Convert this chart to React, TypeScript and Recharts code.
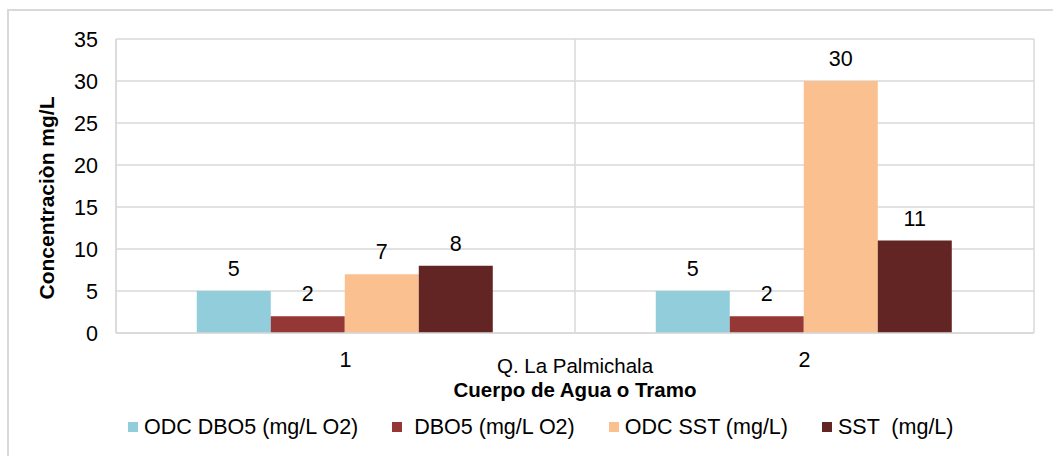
import { BarChart, Bar, XAxis, YAxis, CartesianGrid, Legend, LabelList } from 'recharts'

const tramos = ['1', '2']
const odcDbo5 = [5, 5]
const dbo5 = [2, 2]
const odcSst = [7, 30]
const sst = [8, 11]
const yTicks = [0, 5, 10, 15, 20, 25, 30, 35]

const series = [
  { key: 'odcDbo5', name: 'ODC DBO5 (mg/L O2)', color: '#92CDDC' },
  { key: 'dbo5', name: ' DBO5 (mg/L O2)', color: '#953735' },
  { key: 'odcSst', name: 'ODC SST (mg/L)', color: '#FAC090' },
  { key: 'sst', name: 'SST  (mg/L)', color: '#632523' },
]

const data = tramos.map((t, i) => ({
  tramo: t,
  odcDbo5: odcDbo5[i],
  dbo5: dbo5[i],
  odcSst: odcSst[i],
  sst: sst[i],
}))

const FONT = '"Liberation Sans", Arial, sans-serif'
const FS = 21.5
const GRID = '#d9d9d9'

const CustomLegend = () => (
  <div style={{ display: 'flex', alignItems: 'center', height: 24, paddingLeft: 128, fontFamily: FONT, fontSize: FS, color: '#000' }}>
    {series.map((s) => (
      <div key={s.key} style={{ display: 'flex', alignItems: 'center', marginRight: 34, whiteSpace: 'pre' }}>
        <span style={{ width: 10, height: 10, background: s.color, marginRight: 6, display: 'inline-block' }} />
        <span>{s.name}</span>
      </div>
    ))}
  </div>
)

// two-level category axis: group name + axis title
const XTitle = ({ viewBox }: any) => {
  const cx = viewBox.x + viewBox.width / 2
  return (
    <g fontFamily={FONT} fill="#000" textAnchor="middle">
      <text x={cx} y={viewBox.y + 40} fontSize={20.5}>Q. La Palmichala</text>
      <text x={cx} y={viewBox.y + 64} fontSize={20.5} fontWeight="bold">Cuerpo de Agua o Tramo</text>
    </g>
  )
}

const YTitle = () => (
  <text
    x={46}
    y={198}
    transform="rotate(-90, 46, 198)"
    textAnchor="middle"
    dominantBaseline="central"
    fontFamily={FONT}
    fontSize={21}
    fontWeight="bold"
    fill="#000"
  >
    Concentraciòn mg/L
  </text>
)

const categoryBounds = ({ offset }: any) => {
  const step = offset.width / tramos.length
  return tramos.map((_, i) => offset.left + i * step).concat(offset.left + offset.width)
}

export default function App() {
  return (
    <div style={{ position: 'fixed', left: 0, top: 0, width: 1053, height: 456, overflow: 'hidden', background: '#fff' }}>
      <div style={{ position: 'absolute', left: 7, top: 9, width: 1100, height: 500, border: `2px solid ${GRID}` }} />
      <BarChart
        width={1053}
        height={456}
        data={data}
        margin={{ top: 39, right: 19, left: 0, bottom: 17 }}
        barCategoryGap="17.6%"
        barGap={0}
      >
        <CartesianGrid stroke={GRID} strokeWidth={1.5} verticalCoordinatesGenerator={categoryBounds} />
        <XAxis
          dataKey="tramo"
          height={82}
          tickLine={false}
          axisLine={{ stroke: GRID, strokeWidth: 1.5 }}
          tickMargin={13}
          tick={{ fontFamily: FONT, fontSize: FS, fill: '#000' }}
          label={<XTitle />}
        />
        <YAxis
          width={116}
          domain={[0, 35]}
          ticks={yTicks}
          tickLine={false}
          axisLine={{ stroke: GRID, strokeWidth: 1.5 }}
          tickMargin={12}
          tick={{ fontFamily: FONT, fontSize: FS, fill: '#000' }}
          label={<YTitle />}
        />
        <Legend verticalAlign="bottom" content={<CustomLegend />} wrapperStyle={{ left: 0, width: 1053, height: 24 }} />
        {series.map((s) => (
          <Bar key={s.key} dataKey={s.key} name={s.name} fill={s.color} isAnimationActive={false}>
            <LabelList dataKey={s.key} position="top" offset={15} fontFamily={FONT} fontSize={FS} fill="#000" />
          </Bar>
        ))}
      </BarChart>
    </div>
  )
}
